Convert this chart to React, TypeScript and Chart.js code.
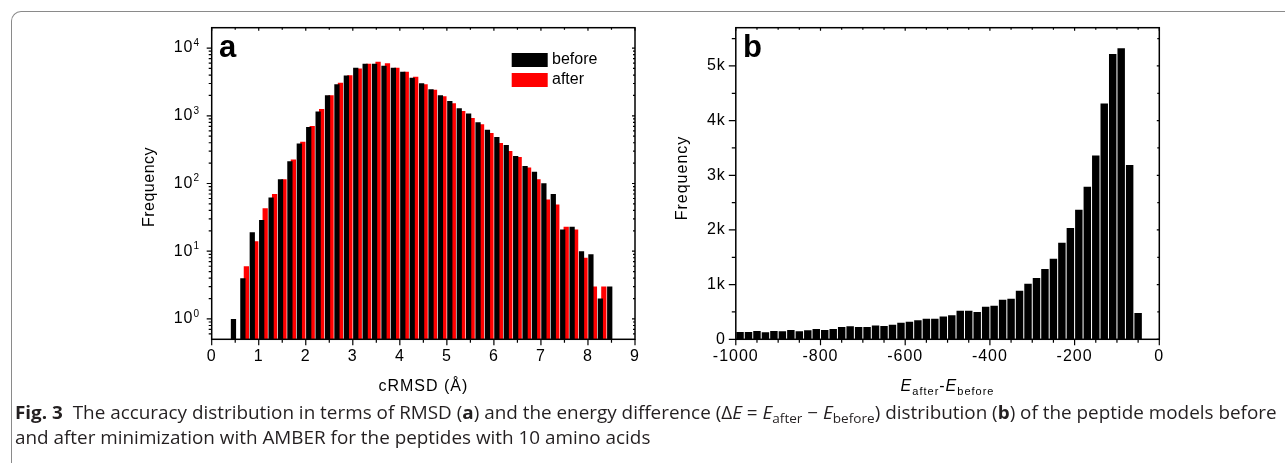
import React, { useEffect, useLayoutEffect, useRef } from 'react';
import { Chart, registerables } from 'chart.js';

Chart.register(...registerables);

// ---------- data: panel a (cRMSD histogram, log scale) ----------
const rmsdBins = [0.5, 0.7, 0.9, 1.1, 1.3, 1.5, 1.7, 1.9, 2.1, 2.3, 2.5, 2.7, 2.9, 3.1, 3.3, 3.5, 3.7, 3.9, 4.1, 4.3, 4.5, 4.7, 4.9, 5.1, 5.3, 5.5, 5.7, 5.9, 6.1, 6.3, 6.5, 6.7, 6.9, 7.1, 7.3, 7.5, 7.7, 7.9, 8.1, 8.3, 8.5];
const rmsdBefore = [1, 4, 19, 29, 62, 116, 214, 391, 683, 1153, 2013, 2930, 3937, 5112, 5860, 5860, 5470, 5112, 4460, 3634, 3029, 2470, 2013, 1660, 1291, 1077, 801, 624, 486, 370, 254, 181, 149, 101, 70, 21, 23, 10, 9, 2, 3];
const rmsdAfter = [null, 6, 14, 43, 70, 116, 227, 414, 707, 1262, 2013, 3064, 3981, 5000, 5860, 6270, 5995, 5112, 4460, 3760, 2930, 2415, 1945, 1531, 1180, 929, 748, 557, 396, 301, 246, 173, 116, 58, 49, 23, 21, 8, 3, 3, null];
const rmsdTicks = [0, 1, 2, 3, 4, 5, 6, 7, 8, 9];
const rmsdMinorTicks = [0.5, 1.5, 2.5, 3.5, 4.5, 5.5, 6.5, 7.5, 8.5];
const logTicks = [1, 10, 100, 1000, 10000];
const logTickExponents = ['0', '1', '2', '3', '4'];
const seriesLabels = ['before', 'after'];

// ---------- data: panel b (energy difference histogram) ----------
const energyBins = [-990, -970, -950, -930, -910, -890, -870, -850, -830, -810, -790, -770, -750, -730, -710, -690, -670, -650, -630, -610, -590, -570, -550, -530, -510, -490, -470, -450, -430, -410, -390, -370, -350, -330, -310, -290, -270, -250, -230, -210, -190, -170, -150, -130, -110, -90, -70, -50];
const energyCounts = [135, 135, 153, 129, 153, 147, 172, 147, 166, 190, 172, 190, 227, 239, 227, 227, 252, 245, 264, 301, 319, 350, 374, 374, 417, 440, 521, 521, 500, 595, 613, 724, 742, 890, 1018, 1123, 1288, 1472, 1767, 2037, 2368, 2791, 3362, 4313, 5221, 5325, 3190, 479];
const energyTicks = [-1000, -800, -600, -400, -200, 0];
const energyMinorTicks = [-950, -900, -850, -750, -700, -650, -550, -500, -450, -350, -300, -250, -150, -100, -50];
const freqTicks = [0, 1000, 2000, 3000, 4000, 5000];
const freqMinorTicks = [500, 1500, 2500, 3500, 4500, 5500];

const FONT = '"Liberation Sans", Arial, Helvetica, sans-serif';

function logMinorTicks(min: number, max: number) {
  const out: number[] = [];
  for (const d of [0.1, 1, 10, 100, 1000, 10000]) {
    for (let m = 2; m <= 9; m++) {
      const v = m * d;
      if (v > min && v < max) out.push(v);
    }
  }
  return out;
}

function drawRotatedTitle(ctx: any, text: string, bx: number, cy: number) {
  ctx.save();
  ctx.translate(bx, cy);
  ctx.rotate(-Math.PI / 2);
  ctx.textAlign = 'center';
  ctx.textBaseline = 'alphabetic';
  ctx.fillText(text, 0, 0);
  ctx.restore();
}

const leftDecor = {
  id: 'leftDecor',
  beforeDraw(chart: any) {
    chart.ctx.letterSpacing = '1px';
  },
  afterDraw(chart: any) {
    const { ctx, chartArea: a } = chart;
    const x = chart.scales.x;
    const y = chart.scales.y;
    ctx.save();
    ctx.letterSpacing = '0px';
    ctx.strokeStyle = '#000';
    ctx.lineWidth = 1.5;
    ctx.strokeRect(a.left, a.top, a.right - a.left, a.bottom - a.top);
    ctx.lineWidth = 1.2;
    ctx.beginPath();
    const seg = (x1: number, y1: number, x2: number, y2: number) => { ctx.moveTo(x1, y1); ctx.lineTo(x2, y2); };
    rmsdTicks.forEach(v => { const p = x.getPixelForValue(v); seg(p, a.bottom, p, a.bottom + 6); seg(p, a.top, p, a.top + 3); });
    rmsdMinorTicks.forEach(v => { const p = x.getPixelForValue(v); seg(p, a.bottom, p, a.bottom + 3.5); seg(p, a.top, p, a.top + 2); });
    logTicks.forEach(v => { const p = y.getPixelForValue(v); seg(a.left - 5, p, a.left, p); seg(a.right, p, a.right - 3, p); });
    logMinorTicks(y.min, y.max).forEach(v => { const p = y.getPixelForValue(v); seg(a.left - 3, p, a.left, p); seg(a.right, p, a.right - 2, p); });
    ctx.stroke();

    ctx.fillStyle = '#000';
    logTicks.forEach((v, i) => {
      const p = y.getPixelForValue(v);
      ctx.letterSpacing = '1px';
      ctx.font = `16px ${FONT}`;
      ctx.textAlign = 'right';
      ctx.textBaseline = 'middle';
      ctx.fillText('10', 193.5, p);
      ctx.letterSpacing = '0px';
      ctx.font = `10px ${FONT}`;
      ctx.textAlign = 'left';
      ctx.fillText(logTickExponents[i], 193.5, p - 5);
    });

    ctx.letterSpacing = '1px';
    ctx.font = `16px ${FONT}`;
    ctx.textAlign = 'center';
    ctx.textBaseline = 'alphabetic';
    ctx.fillText('cRMSD (Å)', (a.left + a.right) / 2, 390.7);
    ctx.letterSpacing = '0.5px';
    drawRotatedTitle(ctx, 'Frequency', 153.5, 187);
    ctx.letterSpacing = '0px';

    ctx.font = `bold 31px ${FONT}`;
    ctx.textAlign = 'left';
    ctx.fillText('a', 219, 57);

    const ds = chart.data.datasets;
    const rows = [60, 80];
    ds.forEach((d: any, i: number) => {
      ctx.fillStyle = d.backgroundColor;
      ctx.fillRect(511.7, rows[i] - 7, 36, 14);
      ctx.fillStyle = '#000';
      ctx.font = `16px ${FONT}`;
      ctx.textBaseline = 'middle';
      ctx.fillText(d.label, 552, rows[i]);
    });
    ctx.restore();
  },
};

const rightDecor = {
  id: 'rightDecor',
  beforeDraw(chart: any) {
    chart.ctx.letterSpacing = '1px';
  },
  afterDraw(chart: any) {
    const { ctx, chartArea: a } = chart;
    const x = chart.scales.x;
    const y = chart.scales.y;
    ctx.save();
    ctx.letterSpacing = '0px';
    ctx.strokeStyle = '#000';
    ctx.lineWidth = 1.5;
    ctx.strokeRect(a.left, a.top, a.right - a.left, a.bottom - a.top);
    ctx.lineWidth = 1.2;
    ctx.beginPath();
    const seg = (x1: number, y1: number, x2: number, y2: number) => { ctx.moveTo(x1, y1); ctx.lineTo(x2, y2); };
    energyTicks.forEach(v => { const p = x.getPixelForValue(v); seg(p, a.bottom, p, a.bottom + 6); seg(p, a.top, p, a.top + 3); });
    energyMinorTicks.forEach(v => { const p = x.getPixelForValue(v); seg(p, a.bottom, p, a.bottom + 3.5); seg(p, a.top, p, a.top + 2); });
    freqTicks.forEach(v => { const p = y.getPixelForValue(v); seg(a.left - 7, p, a.left, p); seg(a.right, p, a.right - 2.5, p); });
    freqMinorTicks.forEach(v => { const p = y.getPixelForValue(v); seg(a.left - 4, p, a.left, p); seg(a.right, p, a.right - 2, p); });
    ctx.stroke();

    ctx.fillStyle = '#000';
    const big = `16px ${FONT}`;
    const bigI = `italic 16px ${FONT}`;
    const small = `11px ${FONT}`;
    const parts: [string, string, number][] = [
      ['E', bigI, 0], ['after', small, 4], ['-', big, 0], ['E', bigI, 0], ['before', small, 4],
    ];
    ctx.letterSpacing = '1px';
    let total = 0;
    parts.forEach(([t, f]) => { ctx.font = f; total += ctx.measureText(t).width; });
    let cx = (a.left + a.right) / 2 - total / 2;
    ctx.textAlign = 'left';
    ctx.textBaseline = 'alphabetic';
    parts.forEach(([t, f, dy]) => { ctx.font = f; ctx.fillText(t, cx, 390.7 + dy); cx += ctx.measureText(t).width; });

    ctx.letterSpacing = '1px';
    ctx.font = big;
    drawRotatedTitle(ctx, 'Frequency', 686.5, 178);
    ctx.letterSpacing = '0px';

    ctx.font = `bold 31px ${FONT}`;
    ctx.textAlign = 'left';
    ctx.fillText('b', 743, 57);
    ctx.restore();
  },
};

const tickFont = { family: FONT, size: 16 };
const plainLabel = (v: any) => String(v);

export default function App() {
  const leftRef = useRef<HTMLCanvasElement>(null);
  const rightRef = useRef<HTMLCanvasElement>(null);
  const cap1 = useRef<HTMLDivElement>(null);
  const cap2 = useRef<HTMLDivElement>(null);

  useEffect(() => {
    const left = new Chart(leftRef.current as HTMLCanvasElement, {
      type: 'bar',
      data: {
        datasets: [
          { label: seriesLabels[0], data: rmsdBins.map((b, i) => ({ x: b, y: rmsdBefore[i] })) as any, backgroundColor: '#000000' },
          { label: seriesLabels[1], data: rmsdBins.map((b, i) => ({ x: b, y: rmsdAfter[i] })) as any, backgroundColor: '#ff0000' },
        ],
      },
      options: {
        responsive: false,
        animation: false,
        layout: { padding: { left: 171.7, right: 650, top: 27.7, bottom: 93.7 } },
        datasets: { bar: { categoryPercentage: 0.745, barPercentage: 1.5 } } as any,
        plugins: { legend: { display: false }, tooltip: { enabled: false } },
        scales: {
          x: {
            type: 'linear', min: 0, max: 9, offset: false,
            grid: { display: false, drawTicks: false }, border: { display: false },
            ticks: { stepSize: 1, color: '#000', font: tickFont, padding: 8, maxRotation: 0, autoSkip: false, callback: plainLabel },
            afterFit: (s: any) => { s.height = 30; },
          },
          y: {
            type: 'logarithmic', min: 0.5, max: 20000,
            grid: { display: false, drawTicks: false }, border: { display: false },
            ticks: { display: false },
            afterFit: (s: any) => { s.width = 40; },
          },
        },
      } as any,
      plugins: [leftDecor],
    });

    const right = new Chart(rightRef.current as HTMLCanvasElement, {
      type: 'bar',
      data: {
        datasets: [
          { label: 'count', data: energyBins.map((b, i) => ({ x: b, y: energyCounts[i] })) as any, backgroundColor: '#000000' },
        ],
      },
      options: {
        responsive: false,
        animation: false,
        layout: { padding: { left: 695.8, right: 125.7, top: 27.7, bottom: 93.7 } },
        datasets: { bar: { categoryPercentage: 1, barPercentage: 0.88 } } as any,
        plugins: { legend: { display: false }, tooltip: { enabled: false } },
        scales: {
          x: {
            type: 'linear', min: -1000, max: 0, offset: false,
            grid: { display: false, drawTicks: false }, border: { display: false },
            ticks: { stepSize: 200, color: '#000', font: tickFont, padding: 8, maxRotation: 0, autoSkip: false, callback: plainLabel },
            afterFit: (s: any) => { s.height = 30; },
          },
          y: {
            type: 'linear', min: 0, max: 5700,
            grid: { display: false, drawTicks: false }, border: { display: false },
            afterBuildTicks: (s: any) => { s.ticks = freqTicks.map(v => ({ value: v })); },
            ticks: {
              color: '#000', font: tickFont, padding: 10,
              callback: (v: any) => (v === 0 ? '0' : `${v / 1000}k`),
            },
            afterFit: (s: any) => { s.width = 40; },
          },
        },
      } as any,
      plugins: [rightDecor],
    });

    return () => { left.destroy(); right.destroy(); };
  }, []);

  useLayoutEffect(() => {
    const l1 = cap1.current, l2 = cap2.current;
    if (!l1 || !l2) return;
    const w = l1.scrollWidth;
    const k = 1262 / w;
    l1.style.transform = `scaleX(${k})`;
    l2.style.transform = `scaleX(${k})`;
  }, []);

  const capStyle: React.CSSProperties = {
    position: 'absolute', left: 15, fontFamily: '"Open Sans", "Noto Sans", sans-serif', fontSize: 17.5,
    lineHeight: '25px', color: '#231f20', whiteSpace: 'nowrap', transformOrigin: '0 0',
  };
  const subStyle: React.CSSProperties = { fontSize: '0.72em', position: 'relative', top: '0.3em', lineHeight: 0 };

  return (
    <div style={{ position: 'absolute', left: 0, top: 0, width: 1285, height: 463, overflow: 'hidden', background: '#fff' }}>
      <div style={{ position: 'absolute', left: 11, top: 11, width: 1400, height: 600, borderTop: '1px solid #8a8a8a', borderLeft: '1px solid #8a8a8a', borderTopLeftRadius: 10 }} />
      <canvas ref={leftRef} width={1285} height={463} style={{ position: 'absolute', left: 0, top: 0 }} />
      <canvas ref={rightRef} width={1285} height={463} style={{ position: 'absolute', left: 0, top: 0 }} />
      <div ref={cap1} style={{ ...capStyle, top: 400 }}>
        <b>Fig. 3</b>&nbsp; The accuracy distribution in terms of RMSD (<b>a</b>) and the energy difference (Δ<i>E</i> = <i>E</i><span style={subStyle}>after</span> − <i>E</i><span style={subStyle}>before</span>) distribution (<b>b</b>) of the peptide models before
      </div>
      <div ref={cap2} style={{ ...capStyle, top: 425 }}>
        and after minimization with AMBER for the peptides with 10 amino acids
      </div>
    </div>
  );
}
